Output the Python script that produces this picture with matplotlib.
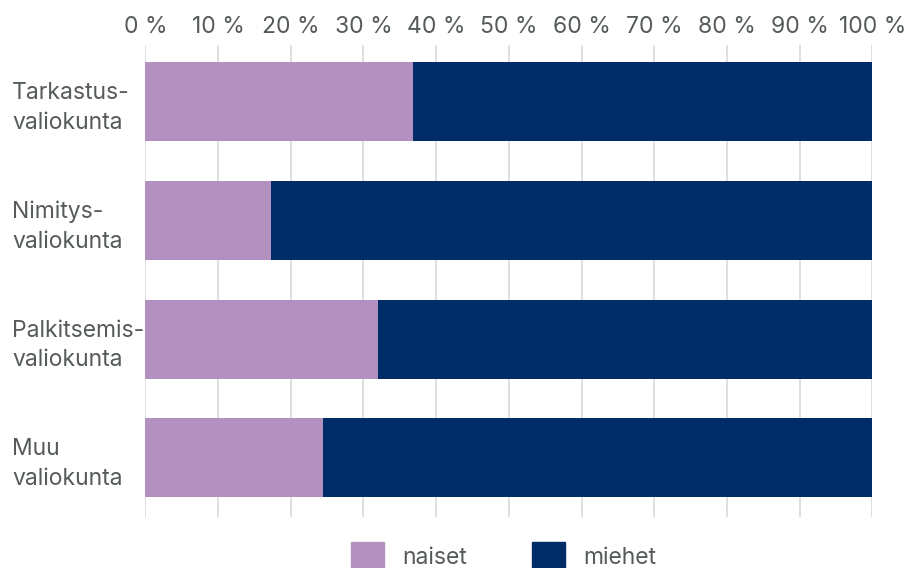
import numpy as np
import matplotlib; matplotlib.use("Agg")
import matplotlib.pyplot as plt
from matplotlib.patches import Patch

# data: share of women / men per committee (%)
committees = ["Tarkastus-\nvaliokunta", "Nimitys-\nvaliokunta",
              "Palkitsemis-\nvaliokunta", "Muu\nvaliokunta"]
naiset = [36.8, 17.3, 32.0, 24.5]
miehet = [100 - v for v in naiset]
xticks = [0, 10, 20, 30, 40, 50, 60, 70, 80, 90, 100]
series_names = ["naiset", "miehet"]

PURPLE = "#b291c1"; NAVY = "#002d67"; TXT = "#555a5a"; GRID = "#d9d9d9"
FS = 16.5
plt.rcParams["font.family"] = ["Inter", "DejaVu Sans"]

fig = plt.figure(figsize=(9.14, 5.68), dpi=100)
ax = fig.add_axes([0.159, 0.0898, 0.7954, 0.831])
y = np.arange(len(committees))
ax.barh(y, naiset, height=0.666, color=PURPLE, zorder=2)
ax.barh(y, miehet, left=naiset, height=0.666, color=NAVY, zorder=2)

ax.set_xlim(0, 100); ax.set_ylim(3.5, -0.48)
ax.set_xticks(xticks)
ax.set_xticklabels([f"{v} %" for v in xticks])
ax.xaxis.tick_top()
ax.grid(axis="x", color=GRID, lw=1.2, zorder=0)
ax.set_yticks(y)
ax.set_yticklabels(committees, ha="left", linespacing=1.45)
ax.tick_params(axis="y", length=0, pad=96, labelsize=FS, labelcolor=TXT)
ax.tick_params(axis="x", length=0, pad=5, labelsize=FS, labelcolor=TXT)
for s in ax.spines.values(): s.set_visible(False)

handles = [Patch(color=PURPLE), Patch(color=NAVY)]
leg = fig.legend(handles, series_names, loc="center", bbox_to_anchor=(0.551, 0.021),
                 ncol=2, frameon=False, fontsize=FS, handlelength=1.45, handleheight=1.45,
                 handletextpad=0.8, columnspacing=2.8, labelcolor=TXT)

fig.savefig("out.png", dpi=100)
